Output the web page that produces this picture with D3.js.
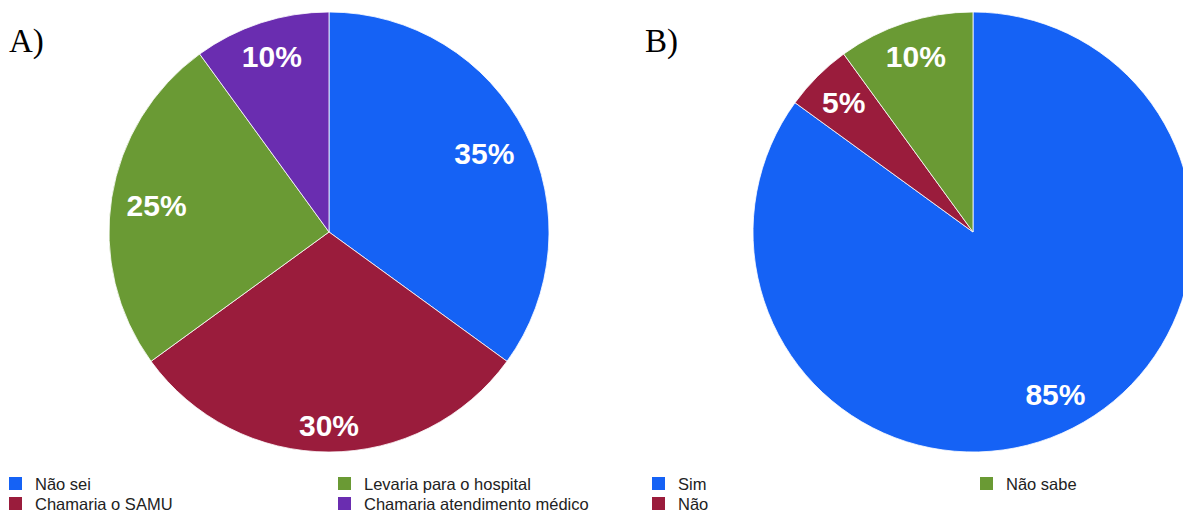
<!DOCTYPE html>
<html>
<head>
<meta charset="utf-8">
<script src="https://cdn.jsdelivr.net/npm/d3@7"></script>
<style>
  html, body { margin: 0; padding: 0; background: #fff; }
  svg { display: block; }
</style>
</head>
<body>
<svg id="chart" width="1183" height="511"></svg>
<script>
// Panel A: what the respondent would do
const categoriesA = ["Não sei", "Chamaria o SAMU", "Levaria para o hospital", "Chamaria atendimento médico"];
const valuesA = [35, 30, 25, 10];
const colorsA = ["#1562f5", "#9a1c3c", "#6a9a34", "#6a2db0"];

// Panel B: yes / no / doesn't know
const categoriesB = ["Sim", "Não", "Não sabe"];
const valuesB = [85, 5, 10];
const colorsB = ["#1562f5", "#9a1c3c", "#6a9a34"];

const panelTitles = ["A)", "B)"];

const svg = d3.select("#chart");
const R = 220;

function drawPie(cx, cy, values, colors, title, titleX) {
  const g = svg.append("g").attr("transform", `translate(${cx},${cy})`);
  const pie = d3.pie().sort(null).value(d => d);
  const arcs = pie(values);
  const arc = d3.arc().innerRadius(0).outerRadius(R);

  g.selectAll("path.slice")
    .data(arcs)
    .join("path")
    .attr("class", "slice")
    .attr("d", arc)
    .attr("fill", (d, i) => colors[i])
    .attr("stroke", "#ffffff")
    .attr("stroke-width", 0.8);

  const fontSize = 30;
  const capH = fontSize * 0.72;
  const target = R - 14;

  const labels = g.selectAll("text.pct")
    .data(arcs)
    .join("text")
    .attr("class", "pct")
    .attr("font-family", "'Liberation Sans', Arial, sans-serif")
    .attr("font-weight", "bold")
    .attr("font-size", fontSize)
    .attr("fill", "#ffffff")
    .attr("text-anchor", "middle")
    .text(d => d.data + "%");

  // Push each label out along its slice's mid-angle until the box's
  // outermost corner sits a fixed distance inside the rim.
  labels.each(function (d) {
    const w = this.getComputedTextLength();
    const a = (d.startAngle + d.endAngle) / 2;
    const ux = Math.sin(a), uy = -Math.cos(a);
    const farthest = dist => {
      const x = dist * ux, y = dist * uy;
      let m = 0;
      for (const sx of [-1, 1]) for (const sy of [-1, 1]) {
        m = Math.max(m, Math.hypot(x + sx * w / 2, y + sy * capH / 2));
      }
      return m;
    };
    let lo = 0, hi = R;
    for (let k = 0; k < 40; k++) {
      const mid = (lo + hi) / 2;
      if (farthest(mid) > target) hi = mid; else lo = mid;
    }
    d3.select(this)
      .attr("x", lo * ux)
      .attr("y", lo * uy + capH / 2);
  });

  svg.append("text")
    .attr("x", titleX)
    .attr("y", 52)
    .attr("font-family", "'Liberation Serif', 'Times New Roman', serif")
    .attr("font-size", 33)
    .attr("fill", "#000")
    .text(title);
}

drawPie(329, 232, valuesA, colorsA, panelTitles[0], 9);
drawPie(973, 232, valuesB, colorsB, panelTitles[1], 645);

// Legends, filled column by column (two rows each)
function drawLegend(names, colors, colX) {
  const rowY = [477, 497];
  const items = names.map((n, i) => ({ name: n, color: colors[i], col: Math.floor(i / 2), row: i % 2 }));
  const lg = svg.append("g");
  const item = lg.selectAll("g.item")
    .data(items)
    .join("g")
    .attr("class", "item")
    .attr("transform", d => `translate(${colX[d.col]},${rowY[d.row]})`);
  item.append("rect")
    .attr("width", 13)
    .attr("height", 13)
    .attr("fill", d => d.color);
  item.append("text")
    .attr("x", 26)
    .attr("y", 12.5)
    .attr("font-family", "'Liberation Sans', Arial, sans-serif")
    .attr("font-size", 16.5)
    .attr("fill", "#222")
    .text(d => d.name);
}

drawLegend(categoriesA, colorsA, [9, 338]);
drawLegend(categoriesB, colorsB, [652, 980]);
</script>
</body>
</html>
